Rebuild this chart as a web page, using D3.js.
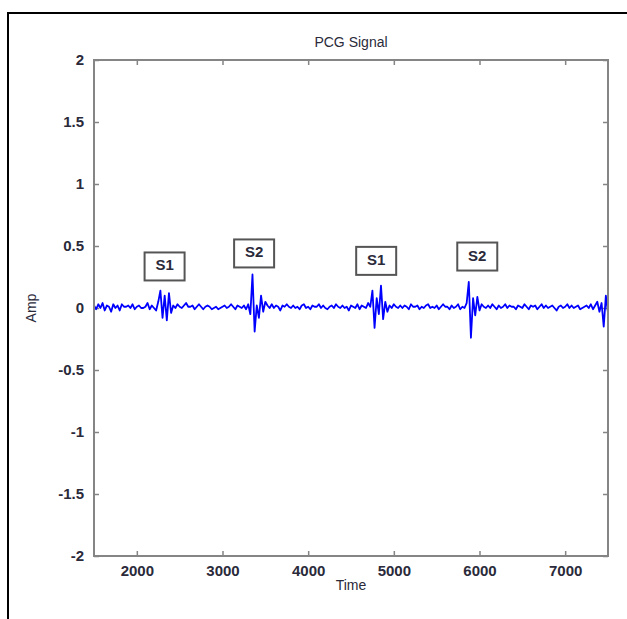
<!DOCTYPE html>
<html>
<head>
<meta charset="utf-8">
<script src="https://cdn.jsdelivr.net/npm/d3@7"></script>
<style>
  body { margin: 0; background: #fff; }
  text { font-family: "Liberation Sans", Arial, sans-serif; }
</style>
</head>
<body>
<div class="PcgPlot"></div>
<script>
// sampled PCG amplitude, one sample every 25 time units starting at 1500
const t0 = 1500
const dt = 25
const amp = [
  0.02, -0.01, 0.03, 0.00, 0.04, -0.02, 0.02, 0.01, -0.03, 0.03,   // 1500
  0.00, 0.02, -0.02, 0.03, 0.01, 0.01, 0.02, 0.00, 0.03, -0.01,    // 1750
  0.01, 0.02, 0.00, 0.00, 0.01, 0.04, -0.01, 0.02, 0.00, -0.02,    // 2000
  0.05, 0.14, -0.08, 0.10, -0.10, 0.12, -0.04, 0.02, 0.00, 0.03,   // 2250 S1
  0.01, 0.00, 0.02, 0.04, 0.01, 0.01, 0.02, -0.01, 0.01, 0.03,     // 2500
  0.01, -0.01, 0.01, 0.02, 0.01, -0.01, 0.00, 0.01, -0.01, 0.00,   // 2750
  0.01, 0.02, 0.00, 0.01, 0.03, 0.01, -0.01, 0.02, 0.01, 0.00,     // 3000
  0.02, -0.01, 0.03, -0.05, 0.27, -0.19, 0.02, -0.08, 0.10, -0.03, // 3250 S2
  0.05, 0.02, 0.00, 0.03, 0.00, 0.02, 0.01, -0.02, 0.02, 0.01,     // 3500
  0.03, 0.01, 0.00, 0.02, 0.00, 0.01, -0.01, 0.02, 0.03, 0.00,     // 3750
  0.01, -0.01, 0.02, 0.01, 0.01, 0.03, 0.00, 0.02, 0.00, -0.01,    // 4000
  0.01, 0.02, 0.00, 0.03, 0.01, 0.00, 0.02, 0.00, 0.01, -0.02,     // 4250
  0.02, 0.01, 0.00, 0.03, -0.01, 0.02, 0.01, 0.00, 0.04, 0.01,     // 4500
  0.14, -0.16, 0.08, -0.05, 0.18, -0.09, 0.05, -0.03, 0.02, 0.00,  // 4750 S1
  0.03, 0.01, 0.00, 0.02, 0.00, 0.02, 0.01, -0.01, 0.03, 0.01,     // 5000
  0.01, 0.02, -0.01, 0.01, 0.00, 0.02, 0.03, 0.00, 0.01, 0.00,     // 5250
  0.02, -0.01, 0.01, 0.03, 0.01, 0.01, -0.01, 0.02, 0.00, 0.01,    // 5500
  0.03, -0.01, 0.01, 0.00, 0.04, 0.21, -0.24, 0.08, -0.06, 0.09,   // 5750 S2
  -0.02, 0.03, 0.01, 0.00, 0.02, 0.00, 0.03, 0.01, -0.01, 0.02,    // 6000
  0.00, 0.01, 0.03, 0.00, 0.02, 0.01, 0.01, -0.01, 0.02, 0.01,     // 6250
  0.00, 0.03, 0.01, -0.01, 0.02, 0.01, 0.02, -0.01, 0.01, 0.03,    // 6500
  0.00, 0.02, 0.00, 0.01, 0.02, 0.00, -0.02, 0.01, 0.02, 0.00,     // 6750
  0.01, 0.03, 0.00, 0.02, 0.00, 0.01, 0.02, -0.01, 0.00, 0.01,     // 7000
  0.02, 0.00, 0.03, -0.01, 0.02, 0.05, -0.03, 0.04, -0.15, 0.10,   // 7250
  -0.04                                                            // 7500
]

const xTicks = [2000, 3000, 4000, 5000, 6000, 7000]
const yTicks = [-2, -1.5, -1, -0.5, 0, 0.5, 1, 1.5, 2]

// text boxes (label, time, amp of box centre)
const labels = ["S1", "S2", "S1", "S2"]
const labelTime = [2324, 3369, 4794, 5974]
const labelAmp = [0.335, 0.44, 0.38, 0.415]

const width = 627
const height = 619
const margin = ({top: 60, right: 19, bottom: 63, left: 94})
const axisColor = "#858585"
const textColor = "#2a2a3a"

let data = amp.map((v, i) => ({t: t0 + i * dt, v: v}))

let x = d3.scaleLinear()
  .domain([1500, 7500])
  .range([margin.left, width - margin.right])

let y = d3.scaleLinear()
  .domain([-2, 2])
  .range([height - margin.bottom, margin.top])

const svg = d3.select(".PcgPlot").append("svg")
  .attr("width", width)
  .attr("height", height)
  .attr("viewBox", [0, 0, width, height])

// outer frame of the figure
svg.append("rect")
  .attr("x", 8)
  .attr("y", 13)
  .attr("width", 700)
  .attr("height", 700)
  .attr("fill", "none")
  .attr("stroke", "#000")
  .attr("stroke-width", 2)

let tickFmt = d => String(d)

let styleAxis = g => g
  .call(g => g.select(".domain").remove())
  .call(g => g.selectAll(".tick line").attr("stroke", axisColor).attr("stroke-width", 1.5))
  .call(g => g.selectAll(".tick text")
    .attr("fill", textColor)
    .attr("font-size", 15)
    .attr("font-weight", "bold"))

// bottom and top
svg.append("g")
  .attr("transform", `translate(0,${y(-2)})`)
  .call(d3.axisBottom(x).tickValues(xTicks).tickSizeInner(-5).tickSizeOuter(0).tickPadding(9).tickFormat(tickFmt))
  .call(styleAxis)

svg.append("g")
  .attr("transform", `translate(0,${y(2)})`)
  .call(d3.axisTop(x).tickValues(xTicks).tickSizeInner(-5).tickSizeOuter(0).tickFormat(""))
  .call(styleAxis)

// left and right
svg.append("g")
  .attr("transform", `translate(${x(1500)},0)`)
  .call(d3.axisLeft(y).tickValues(yTicks).tickSizeInner(-5).tickSizeOuter(0).tickPadding(10).tickFormat(tickFmt))
  .call(styleAxis)

svg.append("g")
  .attr("transform", `translate(${x(7500)},0)`)
  .call(d3.axisRight(y).tickValues(yTicks).tickSizeInner(-5).tickSizeOuter(0).tickFormat(""))
  .call(styleAxis)

// signal
svg.append("path")
  .datum(data)
  .attr("fill", "none")
  .attr("stroke", "#0000ff")
  .attr("stroke-width", 1.8)
  .attr("stroke-linejoin", "round")
  .attr("d", d3.line().x(d => x(d.t)).y(d => y(d.v)))

// box
svg.append("rect")
  .attr("x", x(1500))
  .attr("y", y(2))
  .attr("width", x(7500) - x(1500))
  .attr("height", y(-2) - y(2))
  .attr("fill", "none")
  .attr("stroke", axisColor)
  .attr("stroke-width", 2)

// S1 / S2 annotations
let ann = svg.append("g")
  .selectAll("g")
  .data(labels.map((s, i) => ({s: s, t: labelTime[i], v: labelAmp[i]})))
  .join("g")
    .attr("transform", d => `translate(${x(d.t)},${y(d.v)})`)

ann.append("rect")
  .attr("x", -20)
  .attr("y", -14)
  .attr("width", 40)
  .attr("height", 28)
  .attr("fill", "#fff")
  .attr("stroke", "#555")
  .attr("stroke-width", 2)

ann.append("text")
  .attr("text-anchor", "middle")
  .attr("y", 4)
  .attr("fill", textColor)
  .attr("font-size", 15)
  .attr("font-weight", "bold")
  .text(d => d.s)

svg.append("text")
  .attr("text-anchor", "middle")
  .attr("x", (x(1500) + x(7500)) / 2)
  .attr("y", 47)
  .attr("fill", textColor)
  .attr("font-size", 14)
  .text("PCG Signal")

svg.append("text")
  .attr("text-anchor", "middle")
  .attr("x", (x(1500) + x(7500)) / 2)
  .attr("y", 590)
  .attr("fill", textColor)
  .attr("font-size", 14)
  .text("Time")

svg.append("text")
  .attr("text-anchor", "middle")
  .attr("transform", `translate(36,${y(0)})rotate(-90)`)
  .attr("fill", textColor)
  .attr("font-size", 14)
  .text("Amp")
</script>
</body>
</html>
